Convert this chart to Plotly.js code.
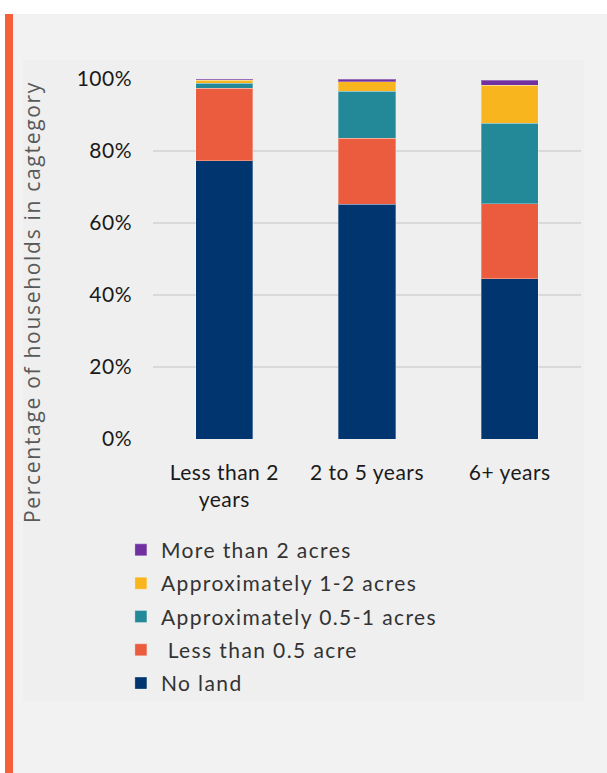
<!DOCTYPE html>
<html>
<head>
<meta charset="utf-8">
<script src="https://cdn.plot.ly/plotly-3.0.1.min.js"></script>
<style>
  html, body { margin: 0; padding: 0; background: #ffffff; width: 607px; height: 773px; overflow: hidden; }
  #accent { position: absolute; left: 5px; top: 14px; width: 8px; height: 759px; background: #F5603B; }
  #panel { position: absolute; left: 13px; top: 14px; width: 594px; height: 759px; background: #f2f2f2; }
  #inner { position: absolute; left: 23px; top: 60px; width: 561px; height: 641px; background: #efefef; }
  #chart { position: absolute; left: 0; top: 0; width: 607px; height: 773px; }
  .legendtext { letter-spacing: 1.4px; }
  .annotation-text { letter-spacing: 1.7px; }
  .xtick text, .ytick text { letter-spacing: 0.5px; }
</style>
</head>
<body>
<div id="accent"></div>
<div id="panel"></div>
<div id="inner"></div>
<div id="chart"></div>
<script>
// Categories (x axis)
const categories = ["Less than 2<br>years", "2 to 5 years", "6+ years"];

// Series values (percent of households)
const noLand      = [77.3, 65.2, 44.5];
const lessHalf    = [20.2, 18.4, 20.8];
const halfToOne   = [1.3, 13.0, 22.4];
const oneToTwo    = [0.9, 2.6, 10.6];
const moreThanTwo = [0.3, 0.8, 1.4];

// Series names and colours
const seriesNames  = ["No land", " Less than 0.5 acre", "Approximately 0.5-1 acres", "Approximately 1-2 acres", "More than 2 acres"];
const seriesValues = [noLand, lessHalf, halfToOne, oneToTwo, moreThanTwo];
const seriesColors = ["#003570", "#EA5C3D", "#238897", "#F9B51D", "#7030A0"];

// Y tick labels
const yTickVals = [0, 20, 40, 60, 80, 100];
const yTickText = ["0%", "20%", "40%", "60%", "80%", "100%"];

const traces = seriesNames.map((name, i) => ({
  type: "bar",
  name: name,
  x: categories,
  y: seriesValues[i],
  legendgroup: "g" + i,
  legendrank: 1000 - i,
  marker: { color: seriesColors[i], line: { color: "rgba(255,255,255,0.3)", width: 1 } },
  hoverinfo: "name+y"
}));

const layout = {
  width: 607,
  height: 773,
  paper_bgcolor: "rgba(0,0,0,0)",
  plot_bgcolor: "rgba(0,0,0,0)",
  barmode: "stack",
  bargap: 0.6,
  margin: { l: 153, r: 26, t: 79, b: 334 },
  font: { family: "Lato, 'Open Sans', sans-serif", size: 21, color: "#1a1a1a" },
  xaxis: {
    type: "category",
    range: [-0.5, 2.5],
    showgrid: false,
    showline: false,
    zeroline: false,
    ticks: "",
    tickfont: { family: "Lato, sans-serif", size: 21, color: "#1a1a1a" },
    ticklabelstandoff: 19
  },
  yaxis: {
    range: [0, 100],
    tickvals: yTickVals,
    ticktext: yTickText,
    showgrid: true,
    gridcolor: "#d9d9d9",
    gridwidth: 1.5,
    zeroline: false,
    showline: false,
    ticks: "",
    tickfont: { family: "Lato, sans-serif", size: 21, color: "#1a1a1a" },
    ticklabelstandoff: 20,
    fixedrange: true
  },
  legend: {
    traceorder: "grouped",
    tracegroupgap: 3,
    x: -0.075,
    xanchor: "left",
    y: -0.252,
    yanchor: "top",
    bgcolor: "rgba(0,0,0,0)",
    font: { family: "Lato, sans-serif", size: 21, color: "#333333" }
  },
  annotations: [{
    text: "Percentage of households in cagtegory",
    xref: "paper", yref: "paper",
    x: (32 - 153) / 428, y: (439 - 302) / 360,
    xanchor: "center", yanchor: "middle",
    textangle: -90,
    showarrow: false,
    font: { family: "'Open Sans', sans-serif", size: 21, color: "#595959" }
  }],
  showlegend: true
};

Plotly.newPlot("chart", traces, layout, { displayModeBar: false, staticPlot: true });
</script>
</body>
</html>
